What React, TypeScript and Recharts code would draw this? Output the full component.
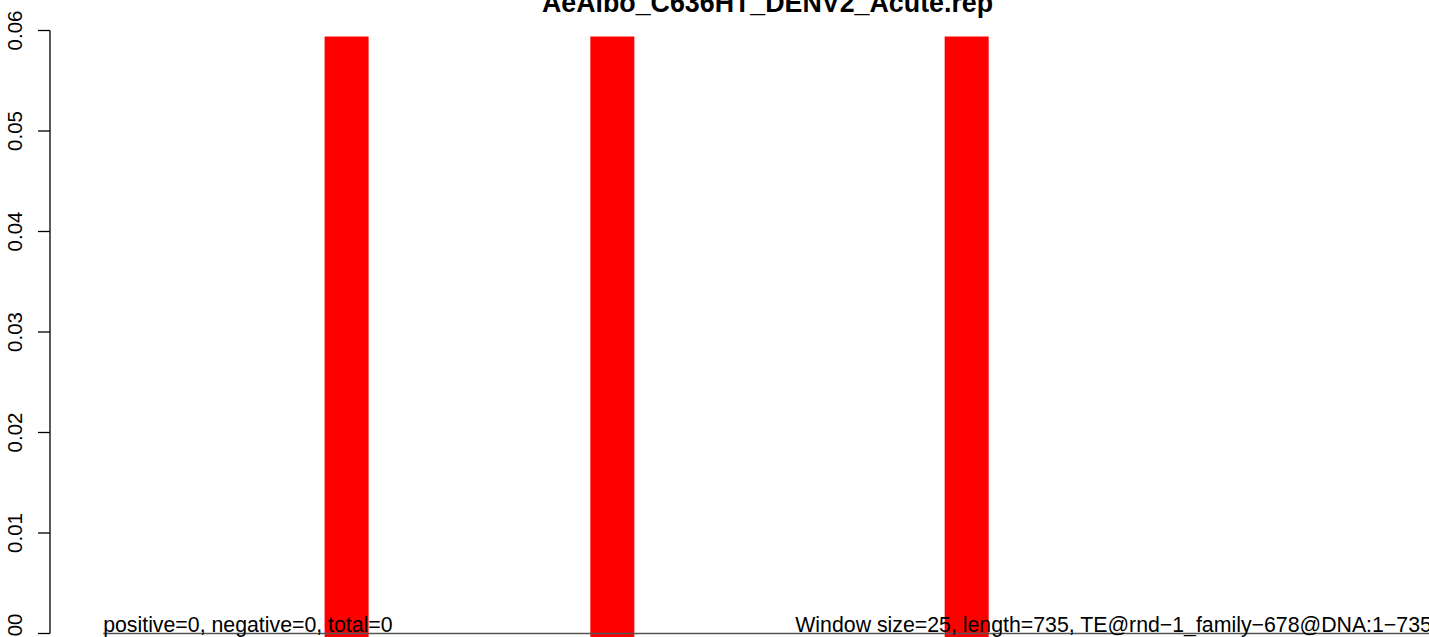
import React from "react";
import { ComposedChart, Bar, XAxis, YAxis, ReferenceLine } from "recharts";

// ---- data ----
const title = "AeAlbo_C636HT_DENV2_Acute.rep";
const windowSize = 25;
const windowStarts = [0, 25, 50, 75, 100, 125, 150, 175, 200, 225, 250, 275, 300, 325, 350, 375, 400, 425, 450, 475, 500, 525, 550, 575, 600, 625, 650, 675, 700, 725];
const windowValues: (number | null)[] = [null, null, null, null, null, 0.0594, null, null, null, null, null, 0.0594, null, null, null, null, null, null, null, 0.0594, null, null, null, null, null, null, null, null, null, null];
const yTicks = [0, 0.01, 0.02, 0.03, 0.04, 0.05, 0.06];
const yTickLabels = ["0.00", "0.01", "0.02", "0.03", "0.04", "0.05", "0.06"];
const leftNote = "positive=0, negative=0, total=0";
const rightNote = "Window size=25, length=735, TE@rnd\u22121_family\u2212678@DNA:1\u2212735";
const xRange = [0, 750];
const xDomain = [-30, 780];
const yDomain = [-0.0024, 0.0624];

const data = windowStarts.map((s, i) => ({
  mid: s + windowSize / 2,
  range: windowValues[i] == null ? null : [yDomain[0], windowValues[i]],
}));

const FONT = "'Liberation Sans', Arial, Helvetica, sans-serif";

const YTick = (props: any) => {
  const { y, payload } = props;
  const idx = yTicks.indexOf(payload.value);
  const label = idx >= 0 ? yTickLabels[idx] : String(payload.value);
  const lx = 22;
  return (
    <g>
      <line x1={38} x2={50} y1={y} y2={y} stroke="#000" strokeWidth={1.3} />
      <text
        x={lx}
        y={y}
        transform={`rotate(-90, ${lx}, ${y})`}
        textAnchor="middle"
        fontFamily={FONT}
        fontSize={20.5}
        fill="#000"
      >
        {label}
      </text>
    </g>
  );
};

const NotesLabel = (props: any) => {
  const vb = props.viewBox || {};
  const x0 = vb.x;
  const x1 = vb.x + (vb.width || 0);
  const y = vb.y - 2;
  return (
    <g>
      <text x={x0} y={y} textAnchor="start" fontFamily={FONT} fontSize={21.3} fill="#000">
        {leftNote}
      </text>
      <text x={x1} y={y} textAnchor="end" fontFamily={FONT} fontSize={21.3} fill="#000">
        {rightNote}
      </text>
    </g>
  );
};

export default function App() {
  return (
    <div
      style={{
        position: "fixed",
        left: 0,
        top: 0,
        width: 1429,
        height: 637,
        overflow: "hidden",
        background: "#fff",
      }}
    >
      <ComposedChart
        width={1500}
        height={670}
        data={data}
        margin={{ top: 6.38, right: 15, bottom: 12.38, left: 0 }}
        barCategoryGap={0}
        barGap={0}
      >
        <XAxis
          dataKey="mid"
          type="number"
          domain={xDomain}
          allowDataOverflow
          hide
        />
        <YAxis
          type="number"
          domain={yDomain}
          allowDataOverflow
          ticks={yTicks}
          width={50}
          axisLine={false}
          tickLine={false}
          tick={<YTick />}
          interval={0}
        />
        <Bar dataKey="range" fill="#ff0000" isAnimationActive={false} />
        <ReferenceLine
          segment={[
            { x: xDomain[0], y: yTicks[0] },
            { x: xDomain[0], y: yTicks[yTicks.length - 1] },
          ]}
          stroke="#000"
          strokeWidth={1.3}
          ifOverflow="visible"
        />
        <ReferenceLine
          segment={[
            { x: xRange[0], y: 0 },
            { x: xRange[1], y: 0 },
          ]}
          stroke="#555"
          strokeWidth={1.5}
          ifOverflow="visible"
          label={<NotesLabel />}
        />
        <text
          x={(50 + 1485) / 2}
          y={12}
          textAnchor="middle"
          fontFamily={FONT}
          fontWeight="bold"
          fontSize={26.8}
          fill="#000"
        >
          {title}
        </text>
      </ComposedChart>
    </div>
  );
}
